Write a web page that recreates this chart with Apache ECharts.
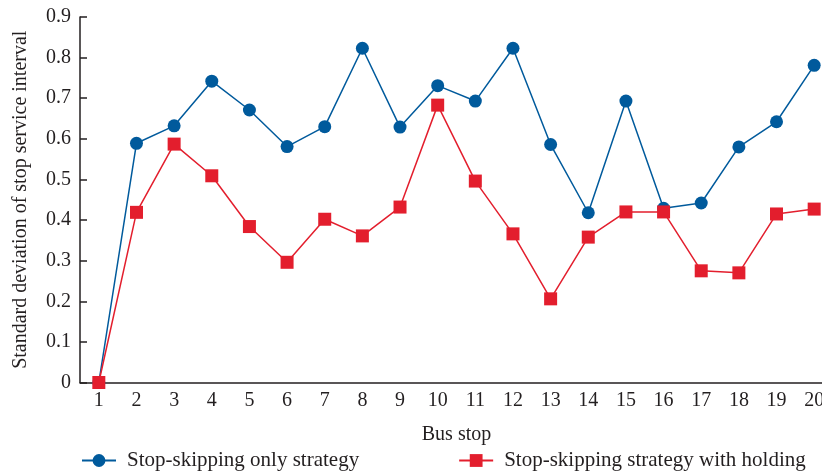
<!DOCTYPE html>
<html>
<head>
<meta charset="utf-8">
<script src="https://cdn.jsdelivr.net/npm/echarts@6/dist/echarts.min.js"></script>
<style>
  html, body { margin: 0; padding: 0; background: #fff; }
  #chart { width: 822px; height: 474px; }
</style>
</head>
<body>
<div id="chart"></div>
<script>
// Bus stop indices along the route
const busStops = ['1','2','3','4','5','6','7','8','9','10','11','12','13','14','15','16','17','18','19','20'];

// Standard deviation of stop service interval per strategy
const skipOnly = [0, 0.589, 0.632, 0.742, 0.671, 0.581, 0.630, 0.823, 0.629, 0.731,
                  0.693, 0.823, 0.586, 0.418, 0.693, 0.429, 0.442, 0.580, 0.642, 0.781];
const skipWithHolding = [0, 0.419, 0.587, 0.509, 0.384, 0.296, 0.402, 0.361, 0.432, 0.683,
                         0.496, 0.366, 0.206, 0.358, 0.420, 0.420, 0.275, 0.270, 0.415, 0.427];

const seriesNames = ['Stop-skipping only strategy', 'Stop-skipping strategy with holding'];

const FONT = 'Liberation Serif';
const INK = '#231f20';
const BLUE = '#005a9c';
const RED = '#e31e2d';

const chart = echarts.init(document.getElementById('chart'), null, { renderer: 'canvas' });

chart.setOption({
  animation: false,
  backgroundColor: '#ffffff',
  textStyle: { fontFamily: FONT, color: INK },
  grid: {
    left: 80, right: -11, top: 17, bottom: 91.5,
    containLabel: false,
    outerBoundsMode: 'none'
  },
  legend: {
    top: 450,
    left: 81,
    padding: 0,
    itemWidth: 34,
    itemHeight: 16,
    itemGap: 99,
    textStyle: { fontFamily: FONT, fontSize: 21, color: INK, padding: [0, 0, 0, 6] },
    data: seriesNames
  },
  xAxis: {
    type: 'category',
    data: busStops,
    boundaryGap: true,
    name: 'Bus stop',
    nameLocation: 'middle',
    nameGap: 42,
    nameTextStyle: { fontFamily: FONT, fontSize: 20, color: INK },
    axisLine: { lineStyle: { color: INK, width: 1.5 } },
    axisTick: { inside: true, alignWithLabel: true, length: 6, lineStyle: { color: INK, width: 1.5 } },
    axisLabel: { fontFamily: FONT, fontSize: 20, color: INK, margin: 8 },
    splitLine: { show: false }
  },
  yAxis: {
    type: 'value',
    min: 0,
    max: 0.9,
    interval: 0.1,
    name: 'Standard deviation of stop service interval',
    nameLocation: 'middle',
    nameGap: 49,
    nameTextStyle: { fontFamily: FONT, fontSize: 20, color: INK },
    axisLine: { show: true, lineStyle: { color: INK, width: 1.5 } },
    axisTick: { show: true, inside: true, length: 7, lineStyle: { color: INK, width: 1.5 } },
    axisLabel: { fontFamily: FONT, fontSize: 20, color: INK, margin: 9 },
    splitLine: { show: false }
  },
  series: [
    {
      name: seriesNames[0],
      type: 'line',
      data: skipOnly,
      clip: false,
      symbol: 'circle',
      symbolSize: 13,
      itemStyle: { color: BLUE },
      lineStyle: { color: BLUE, width: 1.5 }
    },
    {
      name: seriesNames[1],
      type: 'line',
      data: skipWithHolding,
      clip: false,
      symbol: 'rect',
      symbolSize: 13,
      itemStyle: { color: RED },
      lineStyle: { color: RED, width: 1.5 }
    }
  ]
});
</script>
</body>
</html>
